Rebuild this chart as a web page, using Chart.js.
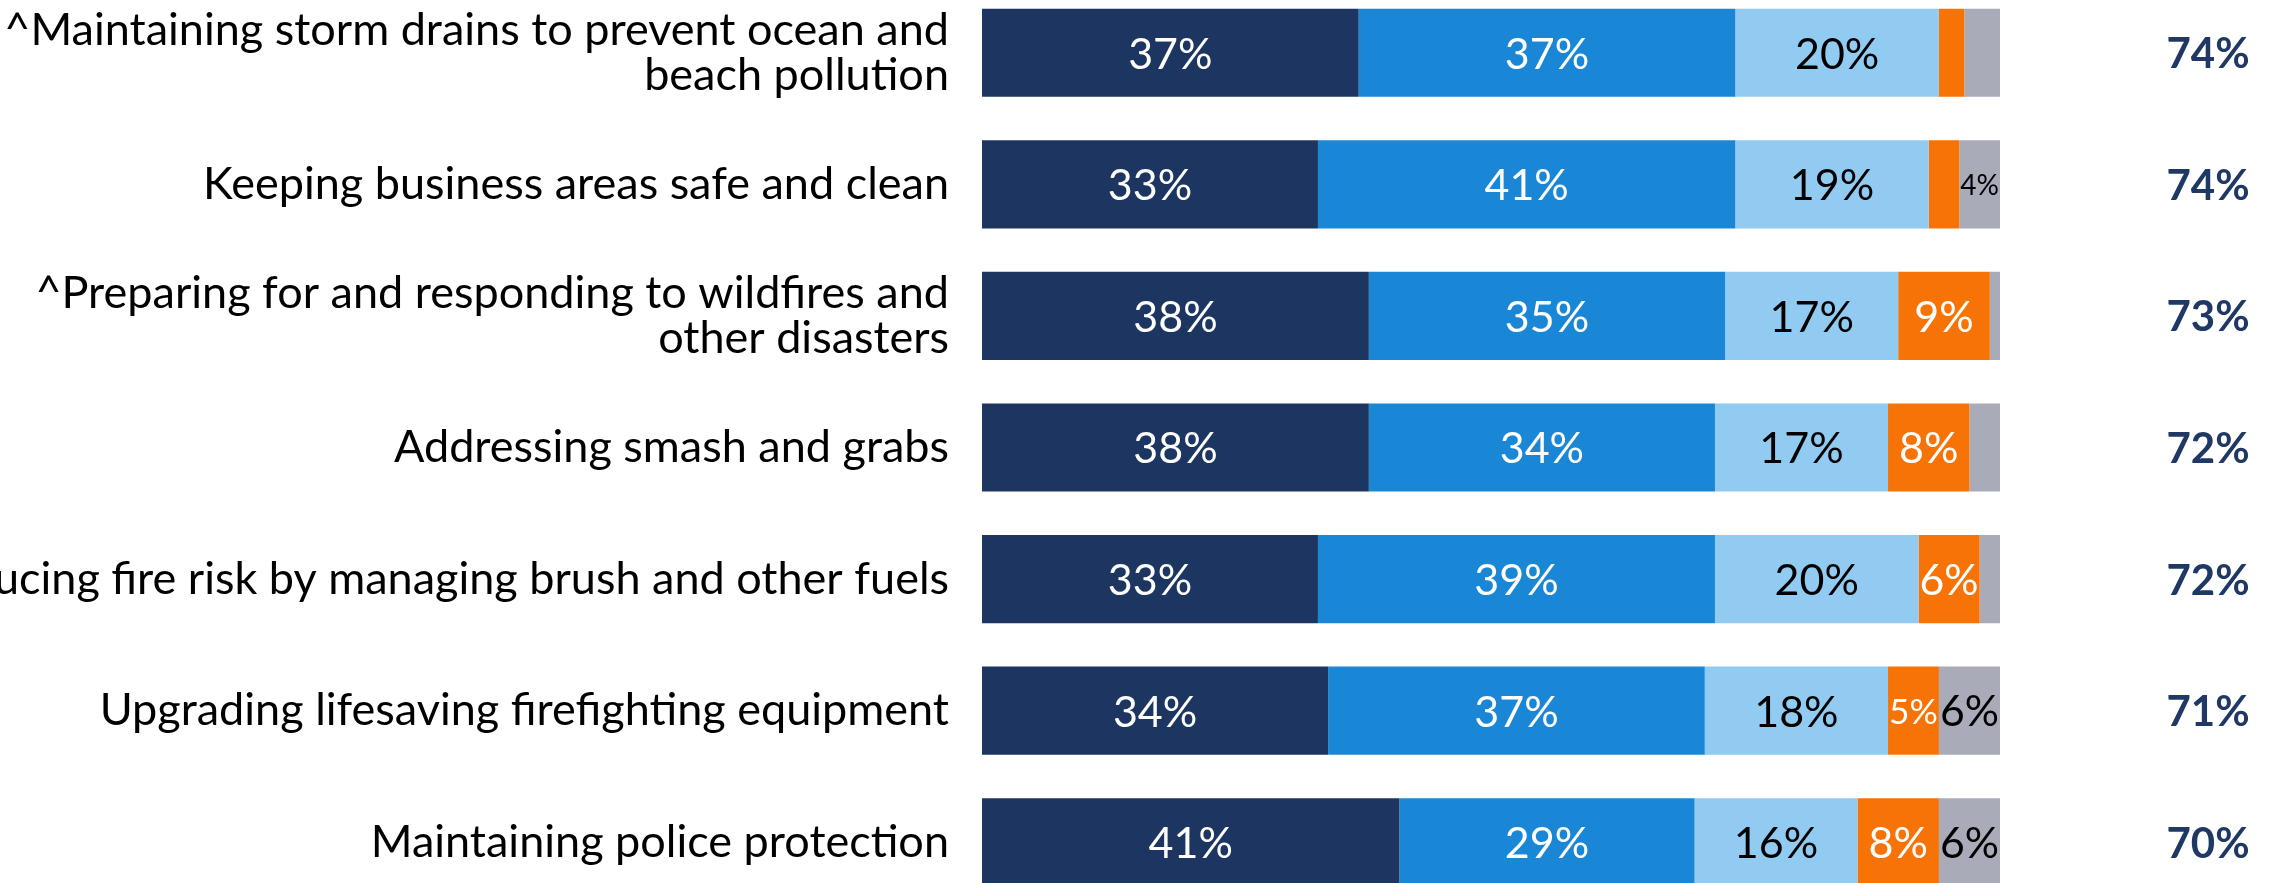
<!DOCTYPE html>
<html>
<head>
<meta charset="utf-8">
<script src="https://cdn.jsdelivr.net/npm/chart.js@4/dist/chart.umd.min.js"></script>
<style>
  html, body { margin: 0; padding: 0; background: #fff; overflow: hidden; }
  #wrap { position: absolute; left: 0; top: -13px; width: 2279px; height: 921px; }
</style>
</head>
<body>
<div id="wrap"><canvas id="chart"></canvas></div>
<script>
// Rows, top to bottom
const categories = [
  ['^Maintaining storm drains to prevent ocean and', 'beach pollution'],
  'Keeping business areas safe and clean',
  ['^Preparing for and responding to wildfires and', 'other disasters'],
  'Addressing smash and grabs',
  'Reducing fire risk by managing brush and other fuels',
  'Upgrading lifesaving firefighting equipment',
  'Maintaining police protection'
];

// Response shares (%) per row
const extremely = [37, 33, 38, 38, 33, 34, 41];
const very      = [37, 41, 35, 34, 39, 37, 29];
const somewhat  = [20, 19, 17, 17, 20, 18, 16];
const notToo    = [2.5, 3, 9, 8, 6, 5, 8];
const dontKnow  = [3.5, 4, 1, 3, 2, 6, 6];

// Combined top-two share shown at the right of each bar
const topTwo = extremely.map((v, i) => v + very[i]);

const fillColors  = ['#1D3661', '#1A87D6', '#92CBF2', '#F87306', '#A9ABB8'];
const labelColors = ['#ffffff', '#ffffff', '#000000', '#ffffff', '#000000'];
const FONT = 'Lato, "Open Sans", sans-serif';

// Draws the value inside each segment and the top-two total on the right
const barLabels = {
  id: 'barLabels',
  afterDatasetsDraw(chart) {
    const ctx = chart.ctx;
    ctx.save();
    ctx.textAlign = 'center';
    ctx.textBaseline = 'middle';
    chart.data.datasets.forEach((ds, di) => {
      const meta = chart.getDatasetMeta(di);
      meta.data.forEach((bar, i) => {
        const v = ds.data[i];
        if (v < 4) return;
        const text = v + '%';
        const w = Math.abs(bar.x - bar.base);
        let size = 43;
        ctx.font = size + 'px ' + FONT;
        const tw = ctx.measureText(text).width;
        if (tw > w - 2) size = size * (w - 2) / tw;
        ctx.font = size + 'px ' + FONT;
        ctx.fillStyle = labelColors[di];
        ctx.fillText(text, (bar.x + bar.base) / 2, bar.y + 2);
      });
    });
    const first = chart.getDatasetMeta(0);
    ctx.font = 'bold 42px ' + FONT;
    ctx.fillStyle = '#1F3864';
    first.data.forEach((bar, i) => {
      ctx.fillText(topTwo[i] + '%', 2208, bar.y + 2);
    });
    ctx.restore();
  }
};

const series = [extremely, very, somewhat, notToo, dontKnow];

new Chart(document.getElementById('chart'), {
  type: 'bar',
  data: {
    labels: categories,
    datasets: series.map((d, i) => ({
      data: d,
      backgroundColor: fillColors[i],
      borderWidth: 0,
      barPercentage: 0.67,
      categoryPercentage: 1
    }))
  },
  options: {
    indexAxis: 'y',
    responsive: true,
    maintainAspectRatio: false,
    animation: false,
    layout: { padding: { left: 0, right: 279, top: 0, bottom: 0 } },
    plugins: {
      legend: { display: false },
      tooltip: { enabled: false }
    },
    scales: {
      x: {
        stacked: true,
        min: 0,
        max: 100,
        display: false
      },
      y: {
        stacked: true,
        grid: { display: false, drawTicks: false },
        border: { display: false },
        ticks: {
          color: '#000',
          padding: 33,
          font: { family: FONT, size: 45, lineHeight: 1.0 }
        },
        afterFit(scale) {
          // fixed label column; rows use the full height
          scale.width = 982;
          scale.paddingTop = 0;
          scale.paddingBottom = 0;
        }
      }
    }
  },
  plugins: [barLabels]
});
</script>
</body>
</html>
